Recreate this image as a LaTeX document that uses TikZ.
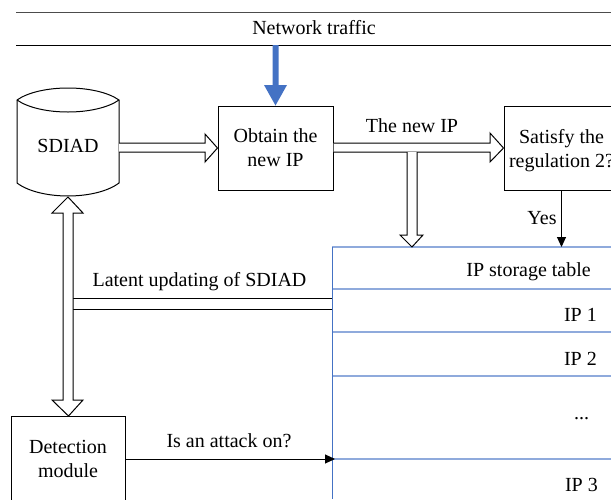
\documentclass[tikz,border=0pt]{standalone}
\usepackage{fontspec}
\setmainfont{Liberation Serif}
\usetikzlibrary{arrows.meta,calc}
\definecolor{trafficblue}{HTML}{4472C4}
\definecolor{rowblue}{HTML}{8FAADC}
\begin{document}
\begin{tikzpicture}[x=1pt,y=-1pt,
  every node/.style={font=\fontsize{20}{24}\selectfont, inner sep=0pt},
  box/.style={draw, line width=1pt, minimum width=115pt, minimum height=84pt, align=center},
  hollow/.style={draw, fill=white, line width=1pt, line join=miter},
  thinarrow/.style={line width=1pt, -{Triangle[length=10pt,width=9pt]}},
  rowline/.style={rowblue, line width=1.5pt},
]
\useasboundingbox (0,0) rectangle (611,499);
\clip (0,0) rectangle (611,499);

% network traffic band
\draw[line width=1pt, black!70] (16,12) -- (611,12);
\draw[line width=1pt] (16,45) -- (611,45);
\node[anchor=base] (traffic) at (314,34) {Network traffic};

% process boxes
\node[box] (obtain) at (275.5,148) {Obtain the\\new IP};
\node[box] (sat) at (561.5,148) {};
\node[align=center] (satlabel) at ($(sat.center)+(0,2.5)$) {Satisfy the\\regulation 2?};
\node[box, minimum width=114pt, minimum height=120pt, anchor=north west] (det) at (11,416) {};
\node[align=center] (detlabel) at (68,459) {Detection\\module};

% SDIAD database drum
\draw[line width=1pt, fill=white] (17,100) .. controls (40,84) and (96,84) .. (119,100)
  -- (119,183) .. controls (96,200.3) and (40,200.3) .. (17,183) -- cycle;
\draw[line width=1pt] (17,100) .. controls (40,116) and (96,116) .. (119,100);
\node (db) at (68,145.5) {SDIAD};
\coordinate (dbE) at (119,148);
\coordinate (dbS) at (68,197);

% IP storage table
\coordinate (tbl) at (332,247);
\coordinate (r1) at (332,289);
\coordinate (r2) at (332,332);
\coordinate (r3) at (332,376);
\coordinate (r4) at (332,459);
\foreach \r in {tbl,r1,r2,r3,r4} \draw[rowline] (\r) -- (\r -| 611,0);
\draw[trafficblue, line width=1pt] (tbl) -- (332,499);
\node[anchor=base east] (thead) at (591,276) {IP storage table};
\node[anchor=base east] (ip1) at (597,321) {IP 1};
\node[anchor=base east] (ip2) at (597,365) {IP 2};
\node[anchor=base] (dots) at (581.5,419) {...};
\node[anchor=base east] (ip3) at (598,491) {IP 3};

% traffic feed
\fill[trafficblue] (272.5,45) -- (278.5,45) -- (278.5,85) -- (287,85)
  -- (obtain.north) -- (264,85) -- (272.5,85) -- cycle;

% SDIAD -> obtain
\draw[hollow] (dbE |- 0,143) -- (205,143) -- (205,134) -- (obtain.west)
  -- (205,162) -- (205,152) -- (dbE |- 0,152);

% obtain -> satisfy, with branch down to the table
\draw[hollow] (obtain.east |- 0,143) -- (490,143) -- (490,133) -- (sat.west)
  -- (490,162) -- (490,152) -- (obtain.east |- 0,152);
\draw[hollow] (407,152) -- (407,235) -- (400,235) -- (412,247) -- (423,235)
  -- (417,235) -- (417,152);
\node[anchor=base] (newip) at (412,132) {The new IP};

% latent updating bar
\draw[line width=1pt] (73,298) -- (r1 |- 0,298) (73,309) -- (r1 |- 0,309);
\node[anchor=base] (latent) at (199.5,286) {Latent updating of SDIAD};

% SDIAD <-> detection module
\draw[hollow] (dbS) -- (83,213) -- (73,213) -- (73,400) -- (83,400) -- (det.north)
  -- (52,400) -- (63,400) -- (63,213) -- (52,213) -- cycle;

% thin arrows
\draw[thinarrow] (sat.south) -- (sat.south |- tbl);
\node[anchor=base] (yes) at (542,224) {Yes};
\draw[thinarrow] (det.east |- r4) -- ($(r4)+(3,0)$);
\node[anchor=base] (attack) at (229,447) {Is an attack on?};
\end{tikzpicture}
\end{document}
